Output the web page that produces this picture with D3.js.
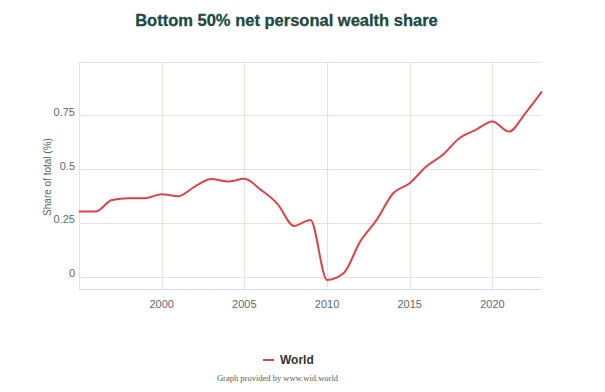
<!DOCTYPE html>
<html>
<head>
<meta charset="utf-8">
<script src="https://cdn.jsdelivr.net/npm/d3@7"></script>
<style>
  html, body { margin: 0; padding: 0; background: #fff; }
  svg { display: block; }
</style>
</head>
<body>
<svg id="chart" width="605" height="392"></svg>
<script>
const years = [1995,1996,1997,1998,1999,2000,2001,2002,2003,2004,2005,2006,2007,2008,2009,2010,2011,2012,2013,2014,2015,2016,2017,2018,2019,2020,2021,2022,2023];
const worldValues = [0.303,0.303,0.357,0.365,0.365,0.384,0.374,0.419,0.454,0.443,0.455,0.404,0.339,0.236,0.264,-0.015,0.016,0.163,0.264,0.388,0.435,0.512,0.567,0.644,0.683,0.722,0.675,0.761,0.862];
const yTicks = [0, 0.25, 0.5, 0.75];
const yTickLabels = ["0", "0.25", "0.5", "0.75"];
const xTicks = [2000, 2005, 2010, 2015, 2020];
const seriesName = "World";
const titleText = "Bottom 50% net personal wealth share";
const yAxisTitle = "Share of total (%)";
const creditText = "Graph provided by www.wid.world";

(function () {
const svg = d3.select("#chart");
const pLeft = 79, pRight = 542, pTop = 61.7, pBottom = 289;

const x = d3.scaleLinear().domain([1995, 2023]).range([pLeft, pRight]);
const y = d3.scaleLinear().domain([-0.0573, 1]).range([pBottom, pTop]);

// title
svg.append("text")
  .attr("x", 286.5).attr("y", 25.5)
  .attr("text-anchor", "middle")
  .attr("font-family", "Liberation Sans, Arial, sans-serif")
  .attr("font-weight", "bold")
  .attr("font-size", 16.5)
  .attr("fill", "#1d4a42")
  .attr("stroke", "#1d4a42")
  .attr("stroke-width", 0.3)
  .text(titleText);

// grid
const grid = svg.append("g");
grid.selectAll(".hg").data(yTicks.concat([1])).enter().append("line")
  .attr("x1", pLeft).attr("x2", pRight)
  .attr("y1", d => Math.round(y(d)) + 0.5).attr("y2", d => Math.round(y(d)) + 0.5)
  .attr("stroke", "#e3e3e0").attr("stroke-width", 1.2);
grid.selectAll(".vg").data([1995].concat(xTicks)).enter().append("line")
  .attr("x1", d => Math.round(x(d)) + 0.5).attr("x2", d => Math.round(x(d)) + 0.5)
  .attr("y1", pTop).attr("y2", pBottom)
  .attr("stroke", "#e3e3e0").attr("stroke-width", 1.2);

// bottom axis line
svg.append("line")
  .attr("x1", pLeft).attr("x2", pRight)
  .attr("y1", pBottom + 0.5).attr("y2", pBottom + 0.5)
  .attr("stroke", "#d4dbe3").attr("stroke-width", 1.2);

// y tick labels
svg.append("g").selectAll("text").data(yTicks).enter().append("text")
  .attr("x", 75).attr("y", d => y(d) + 0.5)
  .attr("text-anchor", "end")
  .attr("font-family", "Liberation Sans, Arial, sans-serif")
  .attr("font-size", 11)
  .attr("fill", "#5f6a6a")
  .text((d, i) => yTickLabels[i]);

// x tick labels
svg.append("g").selectAll("text").data(xTicks).enter().append("text")
  .attr("x", d => x(d)).attr("y", 308)
  .attr("text-anchor", "middle")
  .attr("font-family", "Liberation Sans, Arial, sans-serif")
  .attr("font-size", 11)
  .attr("fill", "#5f6a6a")
  .text(d => d);

// y axis title
svg.append("text")
  .attr("transform", "translate(50.5,177) rotate(-90)")
  .attr("text-anchor", "middle")
  .attr("font-family", "Liberation Sans, Arial, sans-serif")
  .attr("font-size", 10)
  .attr("fill", "#4f6a66")
  .text(yAxisTitle);

// line
const data = years.map((yr, i) => ({ yr, v: worldValues[i] }));
const line = d3.line().x(d => x(d.yr)).y(d => y(d.v)).curve(d3.curveMonotoneX);
svg.append("path")
  .datum(data)
  .attr("d", line)
  .attr("fill", "none")
  .attr("stroke", "#d4464b")
  .attr("stroke-width", 2)
  .attr("stroke-linejoin", "round");

// legend
svg.append("line")
  .attr("x1", 263).attr("x2", 274)
  .attr("y1", 360).attr("y2", 360)
  .attr("stroke", "#d4464b").attr("stroke-width", 2);
svg.append("text")
  .attr("x", 280).attr("y", 364)
  .attr("font-family", "Liberation Sans, Arial, sans-serif")
  .attr("font-weight", "bold")
  .attr("font-size", 12)
  .attr("fill", "#333")
  .text(seriesName);

// credit
svg.append("text")
  .attr("x", 277.5).attr("y", 381)
  .attr("text-anchor", "middle")
  .attr("font-family", "Liberation Serif, Times New Roman, serif")
  .attr("font-size", 8.5)
  .attr("fill", "#4f5f5c")
  .text(creditText);
})();
</script>
</body>
</html>
